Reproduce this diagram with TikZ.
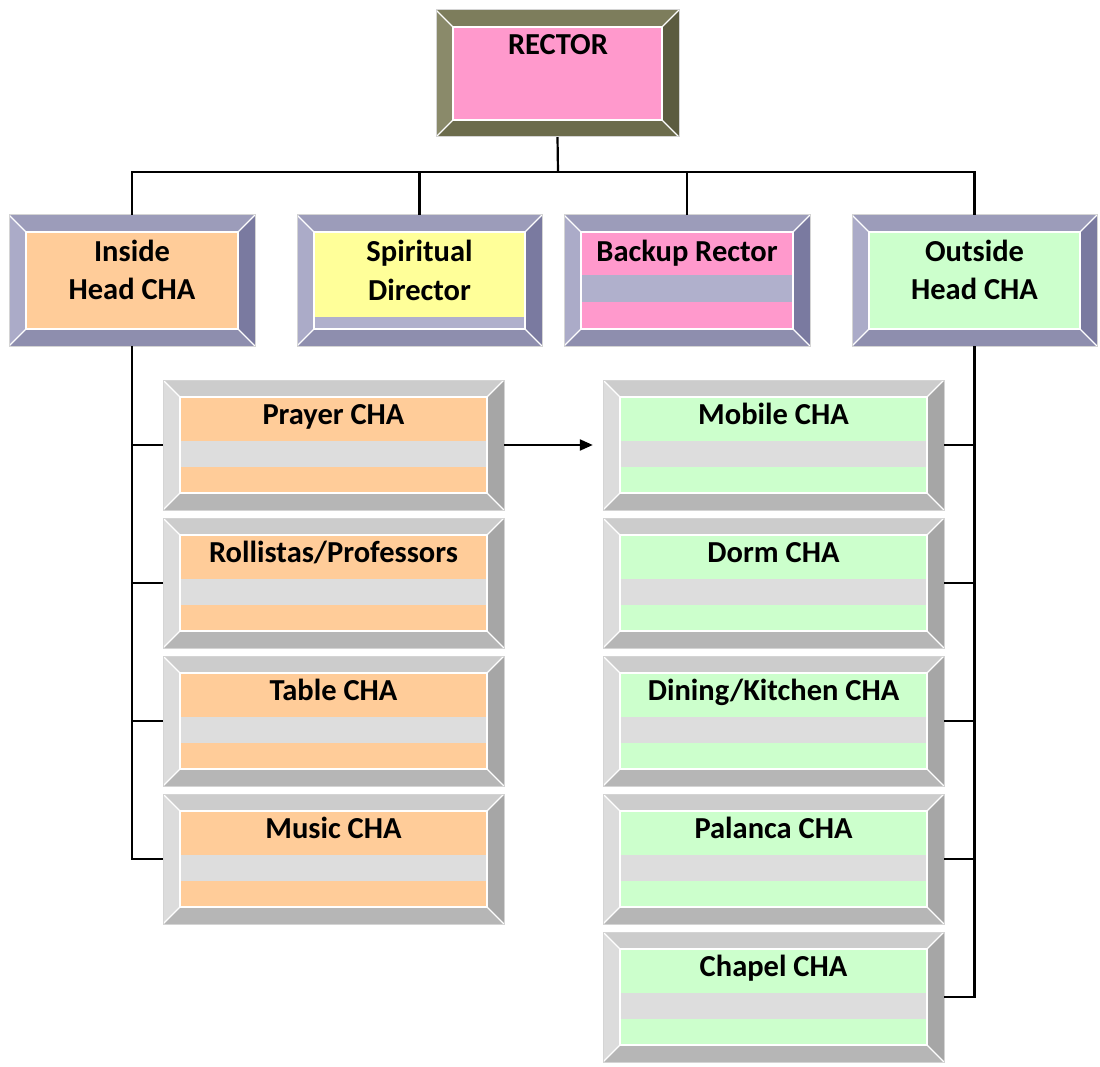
\documentclass[tikz,border=0pt]{standalone}
\usepackage{fontspec}
\setmainfont{Carlito}
\usetikzlibrary{fit,arrows.meta,calc}
\definecolor{olT}{HTML}{7D7D5C}
\definecolor{olL}{HTML}{8A8A6A}
\definecolor{olR}{HTML}{5C5C40}
\definecolor{olB}{HTML}{6C6C4C}
\definecolor{lvT}{HTML}{9C9CBA}
\definecolor{lvL}{HTML}{ABABC8}
\definecolor{lvR}{HTML}{7A7AA0}
\definecolor{lvB}{HTML}{8E8EAE}
\definecolor{grT}{HTML}{CCCCCC}
\definecolor{grL}{HTML}{DCDCDC}
\definecolor{grR}{HTML}{A6A6A6}
\definecolor{grB}{HTML}{B6B6B6}
\definecolor{fOrange}{HTML}{FFCC99}
\definecolor{fGreen}{HTML}{CCFFCC}
\definecolor{fPink}{HTML}{FF99CC}
\definecolor{fYellow}{HTML}{FFFF99}
\definecolor{fLav}{HTML}{B0B0CC}
\definecolor{fGray}{HTML}{DDDDDD}
\definecolor{edge}{HTML}{D4D4D4}
\tikzset{
  conn/.style={line width=2.2pt, black},
  lbl/.style={font=\fontsize{30.5}{36}\selectfont\bfseries, anchor=base, inner sep=0pt},
}
% #1 name, #2 x1, #3 y1, #4 x2, #5 y2, #6 scheme
\newcommand\BevBox[6]{%
  \fill[#6T] (#2,#3) -- (#4,#3) -- (#4-17,#3+17) -- (#2+17,#3+17) -- cycle;
  \fill[#6B] (#2,#5) -- (#4,#5) -- (#4-17,#5-17) -- (#2+17,#5-17) -- cycle;
  \fill[#6L] (#2,#3) -- (#2+17,#3+17) -- (#2+17,#5-17) -- (#2,#5) -- cycle;
  \fill[#6R] (#4,#3) -- (#4-17,#3+17) -- (#4-17,#5-17) -- (#4,#5) -- cycle;
  \draw[white, line width=1.2pt] (#2,#3) -- (#2+17,#3+17) (#4,#3) -- (#4-17,#3+17)
     (#2,#5) -- (#2+17,#5-17) (#4,#5) -- (#4-17,#5-17);
  \draw[white, line width=1.2pt] (#2+17,#3+17) rectangle (#4-17,#5-17);
  \draw[edge, line width=1pt] (#2,#3) rectangle (#4,#5);
  \path (#2,#3) coordinate (#1-nw) (#4,#5) coordinate (#1-se);
  \node[fit=(#1-nw)(#1-se), inner sep=0pt] (#1) {};
}
% child: #1 name, #2 x1, #3 y1, #4 x2, #5 colour, #6 text
\newcommand\ChildBox[6]{%
  \fill[#5] (#2+17,#3+17) rectangle (#4-17,#3+61);
  \fill[fGray] (#2+17,#3+61) rectangle (#4-17,#3+87);
  \fill[#5] (#2+17,#3+87) rectangle (#4-17,#3+113);
  \BevBox{#1}{#2}{#3}{#4}{#3+130}{gr}
  \node[lbl] (#1-t) at ($(#1.north)+(0,45)$) {#6};
}
\begin{document}
\begin{tikzpicture}[x=1pt,y=-1pt]
\useasboundingbox[fill=white] (0,0) rectangle (1100,1067);

% Rector
\fill[fPink] (453,27) rectangle (662,120);
\BevBox{rector}{436}{10}{679}{137}{ol}
\node[lbl] (rector-t) at (558,55) {RECTOR};

% Inside head
\fill[fOrange] (26,232) rectangle (238,329);
\BevBox{inside}{9}{215}{255}{346}{lv}
\node[lbl] (inside-t) at (132,262) {Inside};
\node[lbl] (inside-t2) at (132,299) {Head CHA};

% Spiritual
\fill[fYellow] (314,232) rectangle (525,317);
\fill[fLav] (314,317) rectangle (525,329);
\BevBox{spiritual}{297}{215}{542}{346}{lv}
\node[lbl] (spiritual-t) at (419.5,262) {Spiritual};
\node[lbl] (spiritual-t2) at (419.5,301) {Director};

% Backup
\fill[fPink] (581,232) rectangle (793,275);
\fill[fLav] (581,275) rectangle (793,302);
\fill[fPink] (581,302) rectangle (793,329);
\BevBox{backup}{564}{215}{810}{346}{lv}
\node[lbl] (backup-t) at (687,262) {Backup Rector};

% Outside
\fill[fGreen] (869,232) rectangle (1080,329);
\BevBox{outside}{852}{215}{1097}{346}{lv}
\node[lbl] (outside-t) at (974.5,262) {Outside};
\node[lbl] (outside-t2) at (974.5,299) {Head CHA};

% children left
\ChildBox{prayer}{163}{380}{504}{fOrange}{Prayer CHA}
\ChildBox{rollistas}{163}{518}{504}{fOrange}{Rollistas/Professors}
\ChildBox{table}{163}{656}{504}{fOrange}{Table CHA}
\ChildBox{music}{163}{794}{504}{fOrange}{Music CHA}
% children right
\ChildBox{mobile}{603}{380}{944}{fGreen}{Mobile CHA}
\ChildBox{dorm}{603}{518}{944}{fGreen}{Dorm CHA}
\ChildBox{dining}{603}{656}{944}{fGreen}{Dining/Kitchen CHA}
\ChildBox{palanca}{603}{794}{944}{fGreen}{Palanca CHA}
\ChildBox{chapel}{603}{932}{944}{fGreen}{Chapel CHA}

% connectors
\coordinate (bus) at (558,172);
\draw[conn] (rector.south) -- (bus);
\draw[conn] (inside.north) |- (bus) -| (outside.north);
\draw[conn] (spiritual.north) -- (spiritual.north |- bus);
\draw[conn] (backup.north) -- (backup.north |- bus);

\draw[conn] (inside.south) |- (music.west);
\draw[conn] (prayer.west) -- (prayer.west -| inside.south);
\draw[conn] (rollistas.west) -- (rollistas.west -| inside.south);
\draw[conn] (table.west) -- (table.west -| inside.south);

\draw[conn] (outside.south) |- (chapel.east);
\draw[conn] (mobile.east) -- (mobile.east -| outside.south);
\draw[conn] (dorm.east) -- (dorm.east -| outside.south);
\draw[conn] (dining.east) -- (dining.east -| outside.south);
\draw[conn] (palanca.east) -- (palanca.east -| outside.south);

\draw[conn, -{Triangle[length=13pt,width=11pt]}, shorten >=10pt] (prayer.east) -- (mobile.west);
\end{tikzpicture}
\end{document}
